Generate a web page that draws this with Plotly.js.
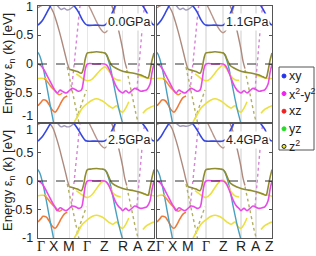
<!DOCTYPE html>
<html><head><meta charset="utf-8">
<script src="https://cdn.plot.ly/plotly-3.0.1.min.js"></script>
<style>html,body{margin:0;padding:0;background:#fff}#c{width:316px;height:256px}</style>
</head><body><div id="c"></div>
<script>
// symmetry path
const kTicks = [0, 16, 31, 49, 66, 84, 99, 115];
const kLabels = ['Γ', 'X', 'M', 'Γ', 'Z', 'R', 'A', 'Z'];
const eTicks = [-1, -0.5, 0, 0.5, 1];
const eLabels = ['-1', '-0.5', '0', '0.5', '1'];
const pressures = ['0.0GPa', '1.1GPa', '2.5GPa', '4.4GPa'];
const orbitals = ['xy', 'x<sup>2</sup>-y<sup>2</sup>', 'xz', 'yz', 'z<sup>2</sup>'];
const orbitalColors = ['#2233ee', '#ee22ee', '#ee2222', '#22dd22', '#eeee22'];

// band values (eV) read per panel: [0.0, 1.1, 2.5, 4.4 GPa]
const xyK = [0,4,8,12,16,24,31,36,40,44,47,49,57,66,69,72,75,78,84,92,99,104,108,111,113,115];
const xyE = [
 [0.67,0.74,0.86,0.99,1.1,1.15,1.1,1.0,0.9,0.76,0.69,0.67,0.67,0.67,0.72,0.82,0.94,1.06,1.15,1.15,1.1,1.0,0.88,0.76,0.7,0.67],
 [0.67,0.75,0.87,1.0,1.1,1.15,1.1,1.0,0.9,0.76,0.69,0.67,0.67,0.67,0.72,0.82,0.94,1.06,1.15,1.15,1.1,1.0,0.88,0.76,0.7,0.67],
 [0.7,0.77,0.88,1.0,1.1,1.15,1.1,1.0,0.9,0.78,0.71,0.7,0.7,0.7,0.74,0.84,0.95,1.06,1.15,1.15,1.1,1.0,0.9,0.78,0.72,0.7],
 [0.7,0.78,0.9,1.01,1.1,1.15,1.1,1.0,0.9,0.78,0.71,0.7,0.7,0.7,0.74,0.84,0.95,1.06,1.15,1.15,1.1,1.0,0.9,0.78,0.72,0.7]];
const greyK = [17,20,23,26,29,32,35,38];
const greyE = [
 [1.06,0.99,0.94,0.96,0.93,0.95,0.99,1.06],
 [1.06,0.99,0.94,0.96,0.93,0.95,0.99,1.06],
 [1.06,1.0,0.95,0.97,0.95,0.96,1.0,1.06],
 [1.06,1.0,0.96,0.97,0.96,0.97,1.0,1.06]];
const roseK = [0,4,8,12,15,18,21,24,27,29,31];
const roseE = [
 [0.97,1.01,1.03,0.99,0.9,0.75,0.57,0.37,0.16,0.02,-0.09],
 [0.97,1.01,1.03,0.99,0.9,0.75,0.57,0.37,0.16,0.02,-0.09],
 [0.99,1.03,1.05,1.0,0.92,0.77,0.59,0.38,0.17,0.02,-0.1],
 [0.99,1.03,1.05,1.0,0.92,0.77,0.59,0.38,0.17,0.02,-0.1]];
const valleyK = [49,52,55,58,61,64,66,68,71,74,77,79];
const valleyE = [
 [1.05,0.95,0.84,0.73,0.63,0.56,0.54,0.56,0.65,0.82,1.0,1.1],
 [1.05,0.95,0.84,0.73,0.63,0.56,0.54,0.56,0.65,0.82,1.0,1.1],
 [1.07,0.97,0.86,0.75,0.66,0.6,0.58,0.6,0.68,0.84,1.02,1.1],
 [1.07,0.97,0.86,0.75,0.66,0.6,0.58,0.6,0.68,0.84,1.02,1.1]];
const rose2K = [72,75,78,81,84,86,88];
const rose2E = [
 [1.05,0.92,0.72,0.5,0.25,0.05,-0.08],
 [1.05,0.92,0.72,0.5,0.25,0.05,-0.08],
 [1.05,0.92,0.72,0.5,0.25,0.05,-0.08],
 [1.05,0.92,0.72,0.5,0.25,0.05,-0.08]];
const oliveK = [31,35,39,43,45,47,49,53,58,63,66,68,70,73,77,82,88,95,102,106,109,111,113,115];
const oliveE = [
 [-0.09,-0.11,-0.13,-0.16,-0.08,0.1,0.19,0.2,0.21,0.2,0.19,0.16,0.08,-0.02,-0.07,-0.11,-0.14,-0.16,-0.19,-0.22,-0.24,-0.12,0.06,0.19],
 [-0.09,-0.11,-0.13,-0.16,-0.08,0.1,0.19,0.2,0.21,0.2,0.19,0.16,0.08,-0.02,-0.07,-0.11,-0.14,-0.16,-0.19,-0.22,-0.24,-0.12,0.06,0.19],
 [-0.1,-0.12,-0.14,-0.17,-0.08,0.1,0.2,0.21,0.22,0.21,0.2,0.16,0.08,-0.03,-0.08,-0.12,-0.15,-0.17,-0.2,-0.23,-0.25,-0.12,0.06,0.2],
 [-0.1,-0.12,-0.14,-0.17,-0.08,0.1,0.2,0.21,0.22,0.21,0.2,0.16,0.08,-0.03,-0.08,-0.12,-0.15,-0.17,-0.2,-0.23,-0.25,-0.12,0.06,0.2]];
const tealK = [0,2,4,6,8,10,12,14,16];
const tealE = [
 [0.2,0.13,0.01,-0.14,-0.32,-0.51,-0.7,-0.88,-1.06],
 [0.2,0.13,0.01,-0.14,-0.32,-0.51,-0.7,-0.88,-1.06],
 [0.2,0.13,0.01,-0.14,-0.32,-0.51,-0.7,-0.88,-1.06],
 [0.2,0.13,0.01,-0.14,-0.32,-0.51,-0.7,-0.88,-1.06]];
const teal2K = [66,68,70,72,74,76,78,80,82,84];
const teal2E = [
 [0.2,0.15,0.05,-0.08,-0.25,-0.43,-0.6,-0.76,-0.9,-1.03],
 [0.2,0.15,0.05,-0.08,-0.25,-0.43,-0.6,-0.76,-0.9,-1.03],
 [0.2,0.15,0.05,-0.08,-0.25,-0.43,-0.6,-0.76,-0.9,-1.03],
 [0.2,0.15,0.05,-0.08,-0.25,-0.43,-0.6,-0.76,-0.9,-1.03]];
const magK = [0,3,6,9,12,15,17,19,22,25,28,31,34,37,40,43,45,47,49,57,66,68,70,72,74,76,78,80,82,84,87,90,93,96,99,102,105,108,111,113,115];
const magE = [
 [0,-0.03,-0.1,-0.2,-0.3,-0.4,-0.46,-0.5,-0.45,-0.48,-0.5,-0.46,-0.42,-0.44,-0.47,-0.45,-0.3,-0.08,0,0,0,-0.02,-0.07,-0.15,-0.24,-0.33,-0.4,-0.45,-0.48,-0.5,-0.46,-0.5,-0.46,-0.42,-0.44,-0.47,-0.46,-0.44,-0.35,-0.15,0],
 [0,-0.03,-0.1,-0.2,-0.3,-0.4,-0.46,-0.5,-0.45,-0.48,-0.5,-0.46,-0.42,-0.44,-0.47,-0.45,-0.3,-0.08,0,0,0,-0.02,-0.07,-0.15,-0.24,-0.33,-0.4,-0.45,-0.48,-0.5,-0.46,-0.5,-0.46,-0.42,-0.44,-0.47,-0.46,-0.44,-0.35,-0.15,0],
 [0,-0.03,-0.1,-0.2,-0.3,-0.4,-0.46,-0.52,-0.47,-0.5,-0.52,-0.48,-0.44,-0.45,-0.48,-0.46,-0.3,-0.08,0,0,0,-0.02,-0.07,-0.15,-0.24,-0.33,-0.4,-0.45,-0.48,-0.52,-0.48,-0.52,-0.48,-0.44,-0.46,-0.48,-0.47,-0.45,-0.35,-0.15,0],
 [0,-0.03,-0.1,-0.2,-0.3,-0.4,-0.46,-0.52,-0.47,-0.5,-0.52,-0.48,-0.44,-0.45,-0.48,-0.46,-0.3,-0.08,0,0,0,-0.02,-0.07,-0.15,-0.24,-0.33,-0.4,-0.45,-0.48,-0.52,-0.48,-0.52,-0.48,-0.44,-0.46,-0.48,-0.47,-0.45,-0.35,-0.15,0]];
const orangeK = [6,9,12,15,18,21,24];
const orangeE = [
 [-0.25,-0.3,-0.37,-0.43,-0.48,-0.53,-0.5],
 [-0.25,-0.3,-0.37,-0.43,-0.48,-0.53,-0.5],
 [-0.25,-0.3,-0.37,-0.43,-0.48,-0.53,-0.5],
 [-0.25,-0.3,-0.37,-0.43,-0.48,-0.53,-0.5]];
const yelUpK = [0,3,6,9];
const yelUpE = [
 [-0.25,-0.245,-0.25,-0.26],
 [-0.25,-0.245,-0.25,-0.26],
 [-0.26,-0.25,-0.25,-0.26],
 [-0.27,-0.25,-0.25,-0.26]];
const yelMidK = [38,42,46,49,53,57,61,64,66,68,71,74,78,82];
const yelMidE = [
 [-0.17,-0.22,-0.27,-0.29,-0.27,-0.2,-0.12,-0.07,-0.05,-0.07,-0.14,-0.22,-0.27,-0.28],
 [-0.17,-0.22,-0.27,-0.29,-0.26,-0.18,-0.09,-0.04,-0.02,-0.05,-0.12,-0.21,-0.27,-0.28],
 [-0.17,-0.22,-0.27,-0.29,-0.25,-0.16,-0.06,-0.01,0.0,-0.03,-0.1,-0.2,-0.26,-0.28],
 [-0.17,-0.22,-0.27,-0.29,-0.24,-0.14,-0.04,0.01,0.02,-0.01,-0.08,-0.19,-0.26,-0.28]];
const yelEndK = [100,104,108,112,115];
const yelEndE = [
 [-0.2,-0.22,-0.24,-0.25,-0.25],
 [-0.2,-0.22,-0.24,-0.25,-0.25],
 [-0.2,-0.22,-0.24,-0.25,-0.26],
 [-0.2,-0.22,-0.24,-0.25,-0.27]];
const lowAK = [0,3,5,8,11,14,17,20,23,26,29];
const lowAE = [
 [-0.72,-0.66,-0.62,-0.63,-0.7,-0.79,-0.83,-0.76,-0.66,-0.58,-0.55],
 [-0.72,-0.66,-0.62,-0.63,-0.7,-0.79,-0.83,-0.76,-0.66,-0.58,-0.55],
 [-0.72,-0.66,-0.62,-0.63,-0.7,-0.79,-0.83,-0.76,-0.66,-0.58,-0.55],
 [-0.72,-0.66,-0.62,-0.63,-0.7,-0.79,-0.83,-0.76,-0.66,-0.58,-0.55]];
const lowBK = [36,40,44,49,54,58,62,66,70,74,78,81,84,87,90];
const lowBE = [
 [-1.0,-0.88,-0.76,-0.68,-0.62,-0.6,-0.62,-0.66,-0.72,-0.76,-0.72,-0.8,-0.83,-0.76,-0.65],
 [-1.0,-0.88,-0.76,-0.68,-0.62,-0.6,-0.62,-0.66,-0.72,-0.76,-0.72,-0.8,-0.83,-0.76,-0.65],
 [-1.0,-0.88,-0.76,-0.68,-0.62,-0.6,-0.62,-0.66,-0.72,-0.76,-0.72,-0.8,-0.83,-0.76,-0.65],
 [-1.0,-0.88,-0.76,-0.68,-0.62,-0.6,-0.62,-0.66,-0.72,-0.76,-0.72,-0.8,-0.83,-0.76,-0.65]];
const lowCK = [104,108,112,115];
const lowCE = [
 [-0.85,-0.78,-0.74,-0.72],[-0.85,-0.78,-0.74,-0.72],[-0.85,-0.78,-0.74,-0.72],[-0.85,-0.78,-0.74,-0.72]];
const pinkAK = [33,35,37,39,41,42];
const pinkAE = [
 [-0.47,-0.15,0.2,0.55,0.9,1.05],[-0.47,-0.15,0.2,0.55,0.9,1.05],[-0.47,-0.15,0.2,0.55,0.9,1.05],[-0.47,-0.15,0.2,0.55,0.9,1.05]];
const pinkBK = [98,100,102,104,106];
const pinkBE = [
 [-0.45,-0.05,0.35,0.75,1.05],[-0.45,-0.05,0.35,0.75,1.05],[-0.45,-0.05,0.35,0.75,1.05],[-0.45,-0.05,0.35,0.75,1.05]];
const dotAK = [29,32,35,38,41];
const dotAE = [
 [-0.05,-0.3,-0.55,-0.8,-1.05],[-0.05,-0.3,-0.55,-0.8,-1.05],[-0.05,-0.3,-0.55,-0.8,-1.05],[-0.05,-0.3,-0.55,-0.8,-1.05]];
const dotBK = [36,39,42,45,48];
const dotBE = [
 [-1.05,-0.9,-0.75,-0.6,-0.45],[-1.05,-0.9,-0.75,-0.6,-0.45],[-1.05,-0.9,-0.75,-0.6,-0.45],[-1.05,-0.9,-0.75,-0.6,-0.45]];
const dotCK = [88,91,94,97,100];
const dotCE = [
 [-0.1,-0.35,-0.6,-0.85,-1.05],[-0.1,-0.35,-0.6,-0.85,-1.05],[-0.1,-0.35,-0.6,-0.85,-1.05],[-0.1,-0.35,-0.6,-0.85,-1.05]];

const bands = [
  {k: greyK, e: greyE, c: '#a09ab8', w: 1.4, d: 'solid'},
  {k: valleyK, e: valleyE, c: '#b8968c', w: 1.4, d: 'solid'},
  {k: rose2K, e: rose2E, c: '#ad8a7e', w: 1.4, d: 'solid'},
  {k: roseK, e: roseE, c: '#ad8a7e', w: 1.4, d: 'solid'},
  {k: pinkAK, e: pinkAE, c: '#d684d6', w: 1.4, d: 'dot'},
  {k: pinkBK, e: pinkBE, c: '#d684d6', w: 1.4, d: 'dot'},
  {k: dotAK, e: dotAE, c: '#b0b060', w: 1.4, d: 'dot'},
  {k: dotBK, e: dotBE, c: '#b0b060', w: 1.4, d: 'dot'},
  {k: dotCK, e: dotCE, c: '#b0b060', w: 1.4, d: 'dot'},
  {k: lowAK, e: lowAE, c: '#ee7a3a', w: 1.6, d: 'solid'},
  {k: lowBK, e: lowBE, c: '#ece040', w: 1.6, d: 'solid'},
  {k: lowCK, e: lowCE, c: '#ece040', w: 1.6, d: 'solid'},
  {k: tealK, e: tealE, c: '#4aa0c0', w: 1.4, d: 'solid'},
  {k: teal2K, e: teal2E, c: '#4aa0c0', w: 1.4, d: 'solid'},
  {k: yelUpK, e: yelUpE, c: '#ece040', w: 1.6, d: 'solid'},
  {k: yelMidK, e: yelMidE, c: '#ece040', w: 1.6, d: 'solid'},
  {k: yelEndK, e: yelEndE, c: '#ece040', w: 1.6, d: 'solid'},
  {k: orangeK, e: orangeE, c: '#f09038', w: 1.6, d: 'solid'},
  {k: magK, e: magE, c: '#e84ae8', w: 1.6, d: 'solid'},
  {k: oliveK, e: oliveE, c: '#908c30', w: 1.6, d: 'solid'},
  {k: xyK, e: xyE, c: '#3548e0', w: 1.6, d: 'solid'}
];

const W = 316, H = 256;
const panelsPx = [ // [x0,x1,y0,y1] in pixels (top-based)
  [38, 154, 6, 122], [157, 272, 6, 122], [38, 154, 124, 238], [157, 272, 124, 238]];
// pixel nudges for the edge tick labels (top panels / bottom panels), order of eTicks
const eLabelShift = [[6, 0, 0, 0, -1], [0, 0, 0, 0, -6]];
const kLabelShift = [3, 0, 0, 0, 0, 0, 0, -3];

const traces = [];
const layout = {width: W, height: H, margin: {l: 0, r: 0, t: 0, b: 0},
  paper_bgcolor: '#fff', plot_bgcolor: '#fff', showlegend: false,
  font: {family: 'Liberation Sans, Arial, sans-serif', color: '#222'},
  shapes: [], annotations: []};

panelsPx.forEach((p, i) => {
  const n = i + 1;
  const xa = 'xaxis' + (n === 1 ? '' : n), ya = 'yaxis' + (n === 1 ? '' : n);
  const xr = 'x' + (n === 1 ? '' : n), yr = 'y' + (n === 1 ? '' : n);
  layout[xa] = {domain: [p[0] / W, p[1] / W], range: [0, 115], anchor: yr,
    tickvals: kTicks, showticklabels: false, ticks: '', showgrid: true,
    gridcolor: '#e6e6e6', gridwidth: 1.5, zeroline: false,
    showline: true, mirror: true, linecolor: '#555', linewidth: 1};
  layout[ya] = {domain: [1 - p[3] / H, 1 - p[2] / H], range: [-1, 1], anchor: xr,
    tickvals: eTicks, showticklabels: false,
    ticks: 'inside', ticklen: 3, tickcolor: '#555', showgrid: false, zeroline: false,
    showline: true, mirror: 'ticks', linecolor: '#555', linewidth: 1};
  bands.forEach(b => {
    traces.push({type: 'scatter', mode: 'lines', x: b.k, y: b.e[i], xaxis: xr, yaxis: yr,
      line: {color: b.c, width: b.w, dash: b.d, shape: 'spline', smoothing: 1},
      hoverinfo: 'skip'});
  });
  layout.shapes.push({type: 'line', xref: xr + ' domain', yref: yr, x0: 0, x1: 1, y0: 0, y1: 0,
    line: {color: '#333', width: 1, dash: 'dash'}});
  layout.annotations.push({xref: 'paper', yref: 'paper', x: (p[1] - 2) / W, y: 1 - (p[2] + 16) / H,
    xanchor: 'right', yanchor: 'middle', text: pressures[i], showarrow: false,
    font: {size: 12.5, color: '#222'}, bgcolor: '#fff', borderpad: 1});
  if (i % 2 === 0) {
    layout.annotations.push({xref: 'paper', yref: 'paper', x: 8 / W, y: 1 - (p[2] + p[3]) / 2 / H,
      xanchor: 'center', yanchor: 'middle', textangle: -90, showarrow: false,
      text: 'Energy ε<sub>n</sub> (k) [eV]', font: {size: 13, color: '#222'}});
    eTicks.forEach((t, j) => {
      layout.annotations.push({xref: 'paper', yref: yr, x: 34 / W, y: t, xanchor: 'right',
        yanchor: 'middle', text: eLabels[j], showarrow: false, yshift: eLabelShift[i / 2][j],
        borderpad: 0, font: {size: 12.5, color: '#222'}});
    });
  }
  if (i >= 2) {
    kTicks.forEach((t, j) => {
      layout.annotations.push({xref: xr, yref: 'paper', x: t, y: 1 - 246 / H, xanchor: 'center',
        yanchor: 'middle', text: kLabels[j], showarrow: false, xshift: kLabelShift[j],
        font: {size: 14, color: '#222', family: j === 0 || j === 3 ? 'Liberation Serif, serif' : 'Liberation Sans, Arial, sans-serif'}});
    });
  }
});

// legend box
layout.shapes.push({type: 'rect', xref: 'paper', yref: 'paper', x0: 279 / W, x1: 314 / W,
  y0: 1 - 150 / H, y1: 1 - 67 / H, line: {color: '#555', width: 1}, fillcolor: '#fff'});
orbitals.forEach((o, j) => {
  const cy = 76 + j * 17.6;
  layout.shapes.push({type: 'circle', xref: 'paper', yref: 'paper',
    x0: 282 / W, x1: 286 / W, y0: 1 - (cy + 2) / H, y1: 1 - (cy - 2) / H,
    fillcolor: orbitalColors[j], line: {color: j === 4 ? '#222' : orbitalColors[j], width: 1}});
  layout.annotations.push({xref: 'paper', yref: 'paper', x: 286.5 / W, y: 1 - cy / H,
    xanchor: 'left', yanchor: 'middle', text: o, showarrow: false, font: {size: 12.5, color: '#222'}});
});

Plotly.newPlot('c', traces, layout, {staticPlot: true, displayModeBar: false});
</script></body></html>
